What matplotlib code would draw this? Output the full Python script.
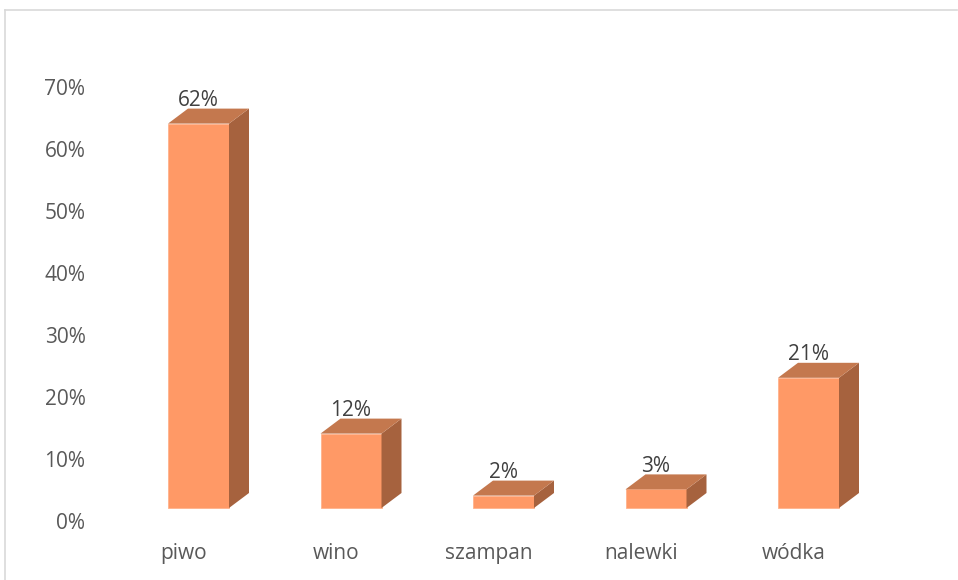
import matplotlib
matplotlib.use("Agg")
import matplotlib.pyplot as plt
from matplotlib.patches import Polygon
from matplotlib.lines import Line2D

categories = ["piwo", "wino", "szampan", "nalewki", "wódka"]
values = [62, 12, 2, 3, 21]
ytick_vals = [0, 10, 20, 30, 40, 50, 60, 70]
ytick_labels = [f"{v}%" for v in ytick_vals]

front_col = "#FF9966"
top_col = "#C4784E"
side_col = "#A6623E"

plt.rcParams['font.family'] = ['Open Sans', 'DejaVu Sans']

W, H = 958, 580
fig = plt.figure(figsize=(W / 100, H / 100), dpi=100)

# axes placed so 0% sits at y=521px and 70% at y=87px
px_per_cat = 152.5
x0_px = 198.5
left_px = x0_px - 0.5 * px_per_cat
ax = fig.add_axes([left_px / W, (H - 521) / H, 5 * px_per_cat / W, (521 - 87) / H])
ax.set_xlim(-0.5, 4.5)
ax.set_ylim(0, 70)

# 3d look: offsets in data units
px_per_pct = (521 - 87) / 70
base = 13 / px_per_pct
dx = 20 / px_per_cat
dy = 15 / px_per_pct
bw = 61 / px_per_cat

for i, v in enumerate(values):
    xl, xr = i - bw / 2, i + bw / 2
    top = base + v
    ax.add_patch(Polygon([(xl, base), (xr, base), (xr, top), (xl, top)],
                         closed=True, facecolor=front_col, edgecolor="#FFB38C",
                         lw=0.6, clip_on=False))
    ax.add_patch(Polygon([(xr, base), (xr + dx, base + dy), (xr + dx, top + dy), (xr, top)],
                         closed=True, facecolor=side_col, edgecolor="none", clip_on=False))
    ax.add_patch(Polygon([(xl, top), (xl + dx, top + dy), (xr + dx, top + dy), (xr, top)],
                         closed=True, facecolor=top_col, edgecolor="none", clip_on=False))
    ax.text(i, top + dy + 0.45, f"{v}%", ha="center", va="baseline",
            fontsize=15, color="#404040", clip_on=False)
    ax.text(i - 15 / px_per_cat, -38 / px_per_pct, categories[i], ha="center",
            va="baseline", fontsize=15, color="#595959", clip_on=False)

ax.set_yticks(ytick_vals)
ax.set_yticklabels(ytick_labels)
ax.set_xticks([])
ax.tick_params(axis="y", length=0, pad=26.5, labelsize=15, labelcolor="#595959")
for s in ax.spines.values():
    s.set_visible(False)
ax.patch.set_alpha(0)

# light chart border (top and left)
bc = "#D9D9D9"
fig.add_artist(Line2D([4.5 / W, 4.5 / W], [0, 1 - 9.5 / H], color=bc, lw=1.2, transform=fig.transFigure))
fig.add_artist(Line2D([4.5 / W, 957 / W], [1 - 9.5 / H, 1 - 9.5 / H], color=bc, lw=1.2, transform=fig.transFigure))

fig.savefig("out.png", dpi=100)
